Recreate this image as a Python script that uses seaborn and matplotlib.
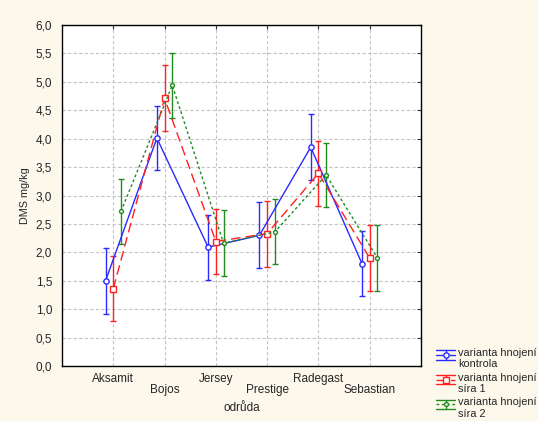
import matplotlib
matplotlib.use("Agg")
import matplotlib.pyplot as plt
import matplotlib.ticker as mticker
from matplotlib.legend_handler import HandlerBase
from matplotlib.lines import Line2D
import pandas as pd
import seaborn as sns

categories = ["Aksamit", "Bojos", "Jersey", "Prestige", "Radegast", "Sebastian"]
series_names = ["varianta hnojení\nkontrola", "varianta hnojení\nsíra 1", "varianta hnojení\nsíra 2"]
kontrola = [1.50, 4.01, 2.09, 2.30, 3.85, 1.80]
sira1 = [1.36, 4.71, 2.19, 2.33, 3.39, 1.90]
sira2 = [2.72, 4.94, 2.16, 2.36, 3.36, 1.90]
kontrola_err = [0.58, 0.57, 0.57, 0.58, 0.58, 0.57]
sira1_err = [0.57, 0.58, 0.58, 0.58, 0.57, 0.58]
sira2_err = [0.57, 0.57, 0.58, 0.57, 0.57, 0.58]

values = [kontrola, sira1, sira2]
errors = [kontrola_err, sira1_err, sira2_err]
colors = ["#2a2aff", "#ff2020", "#1f8c1f"]
linestyles = ["-", (0, (7, 3.5)), (0, (2, 1.8))]
markers = ["o", "s", "o"]
msizes = [3.8, 3.8, 2.8]
offsets = [-0.15, 0.0, 0.15]

rows = []
for name, vals, errs, off in zip(series_names, values, errors, offsets):
    for i, (v, e) in enumerate(zip(vals, errs)):
        rows.append({"varianta": name, "x": i + off, "odruda": categories[i], "DMS": v, "err": e})
df = pd.DataFrame(rows)

sns.set_style("white")
plt.rcParams["font.family"] = ["Liberation Sans", "DejaVu Sans"]
FS = 8.5


class MeanErrHandler(HandlerBase):
    """Legend key: mean line with marker between two whisker caps."""

    def __init__(self, color, ls, marker, ms):
        super().__init__()
        self.color, self.ls, self.marker, self.ms = color, ls, marker, ms

    def create_artists(self, legend, orig_handle, xdescent, ydescent, width, height, fontsize, trans):
        c = self.color
        yc = height / 2 - ydescent + 2.8
        hh = 3.3
        x0, x1 = -xdescent, -xdescent + width
        xm = (x0 + x1) / 2
        arts = [
            Line2D([x0, x1], [yc + hh, yc + hh], color=c, lw=1.0),
            Line2D([x0, x1], [yc - hh, yc - hh], color=c, lw=1.0),
            Line2D([xm, xm], [yc - hh, yc + hh], color=c, lw=1.0),
            Line2D([x0, x1], [yc, yc], color=c, lw=1.0, linestyle=self.ls),
            Line2D([xm], [yc], color=c, marker=self.marker, markersize=self.ms,
                   markerfacecolor="white", markeredgecolor=c, markeredgewidth=1.0),
        ]
        for a in arts:
            a.set_transform(trans)
        return arts


bg = "#fdf8ec"
fig = plt.figure(figsize=(5.38, 4.21), dpi=100, facecolor=bg)
ax = fig.add_axes([62 / 538, 1 - 366 / 421, 359 / 538, 341 / 421])
ax.set_facecolor("white")

handles = []
handler_map = {}
for name, col, ls, mk, ms in zip(series_names, colors, linestyles, markers, msizes):
    sub = df[df["varianta"] == name]
    sns.lineplot(data=sub, x="x", y="DMS", ax=ax, color=col, linewidth=1.0,
                 linestyle=ls, marker=mk, markersize=ms, markerfacecolor="white",
                 markeredgecolor=col, markeredgewidth=1.0, legend=False, sort=False,
                 zorder=3)
    ax.errorbar(sub["x"], sub["DMS"], yerr=sub["err"], fmt="none", ecolor=col,
                elinewidth=1.0, capsize=2.2, capthick=1.0, zorder=2)
    h = Line2D([], [], color=col)
    handles.append(h)
    handler_map[h] = MeanErrHandler(col, ls, mk, ms)

ax.set_xlim(-1, 6)
ax.set_ylim(0, 6)
ax.set_xticks(range(len(categories)))
ax.set_xticklabels(categories, fontsize=FS)
ax.yaxis.set_major_locator(mticker.MultipleLocator(0.5))
ax.yaxis.set_major_formatter(mticker.FuncFormatter(lambda v, p: f"{v:.1f}".replace(".", ",")))
ax.tick_params(axis="both", direction="in", length=3, width=0.8, labelsize=FS,
               top=True, right=True, color="#333333")
ax.tick_params(axis="y", pad=7)
ax.tick_params(axis="x", pad=5)
for i, t in enumerate(ax.xaxis.get_major_ticks()):
    if i % 2 == 1:
        t.set_pad(13)

ax.grid(True, linestyle=(0, (3, 2)), color="#c4c4c4", linewidth=0.8)
ax.set_axisbelow(True)
for s in ax.spines.values():
    s.set_color("black")
    s.set_linewidth(1.0)

ax.set_ylabel("DMS mg/kg", fontsize=7.8, labelpad=4)
ax.set_xlabel("odrůda", fontsize=FS, labelpad=4)

leg = fig.legend(handles, series_names, handler_map=handler_map, loc="upper left",
                 bbox_to_anchor=(436 / 538, 1 - 348 / 421), frameon=False, fontsize=7.9,
                 handlelength=1.75, handletextpad=0.3, labelspacing=0.3, borderaxespad=0,
                 borderpad=0)
for t in leg.get_texts():
    t.set_linespacing(1.17)

fig.savefig("out.png", dpi=100, facecolor=bg)
